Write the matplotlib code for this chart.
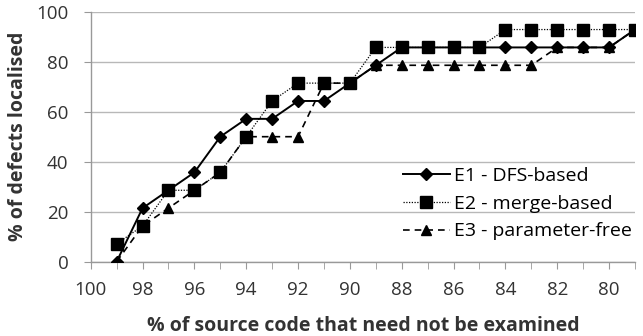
import matplotlib.pyplot as plt
from matplotlib.ticker import MultipleLocator

plt.rcParams['font.family'] = ['Open Sans', 'DejaVu Sans']

x = [99, 98, 97, 96, 95, 94, 93, 92, 91, 90, 89, 88, 87, 86, 85, 84, 83, 82, 81, 80, 79]

e1 = [0, 21.43, 28.57, 35.71, 50, 57.14, 57.14, 64.29, 64.29, 71.43, 78.57,
      85.71, 85.71, 85.71, 85.71, 85.71, 85.71, 85.71, 85.71, 85.71, 92.86]
e2 = [7.14, 14.29, 28.57, 28.57, 35.71, 50, 64.29, 71.43, 71.43, 71.43, 85.71,
      85.71, 85.71, 85.71, 85.71, 92.86, 92.86, 92.86, 92.86, 92.86, 92.86]
e3 = [0, 14.29, 21.43, 28.57, 35.71, 50, 50, 50, 71.43, 71.43, 78.57,
      78.57, 78.57, 78.57, 78.57, 78.57, 78.57, 85.71, 85.71, 85.71, 92.86]

labels = ["E1 - DFS-based", "E2 - merge-based", "E3 - parameter-free"]

fig = plt.figure(figsize=(6.43, 3.36), dpi=100)
ax = fig.add_axes([90.7 / 643, 1 - 261.7 / 336, (635 - 90.7) / 643, 250 / 336])

ax.plot(x, e1, color="black", lw=1.4, marker="D", ms=6, label=labels[0], zorder=3)
ax.plot(x, e2, color="black", lw=0.9, ls=(0, (1, 1.2)), marker="s", ms=8, label=labels[1], zorder=3)
ax.plot(x, e3, color="black", lw=1.2, ls=(0, (4, 3)), marker="^", ms=7, label=labels[2], zorder=3)

ax.set_xlim(100, 79)
ax.set_ylim(0, 100)
ax.set_xticks(range(80, 101, 2))
ax.xaxis.set_minor_locator(MultipleLocator(1))
ax.set_yticks(range(0, 101, 20))

ax.grid(axis="y", color="#b8b8b8", lw=1)
ax.set_axisbelow(True)
for s in ["top", "right"]:
    ax.spines[s].set_visible(False)
for s in ["left", "bottom"]:
    ax.spines[s].set_color("#999999")
    ax.spines[s].set_linewidth(1)

ax.tick_params(axis="y", which="major", length=5, color="#999999", labelsize=13.5, pad=11,
               labelcolor="#333333")
ax.tick_params(axis="x", which="both", length=5, color="#999999", labelsize=13.5, pad=9,
               labelcolor="#333333")

ax.set_xlabel("% of source code that need not be examined", fontsize=14, fontweight="bold",
              color="#333333", labelpad=12)
ax.set_ylabel("% of defects localised", fontsize=14, fontweight="bold", color="#333333",
              labelpad=6)

ax.legend(loc="lower right", frameon=False, fontsize=14, handlelength=2.4, handletextpad=0.25,
          borderpad=0, borderaxespad=0, labelspacing=0.5, bbox_to_anchor=(0.995, 0.085))

fig.savefig("out.png", dpi=100)
